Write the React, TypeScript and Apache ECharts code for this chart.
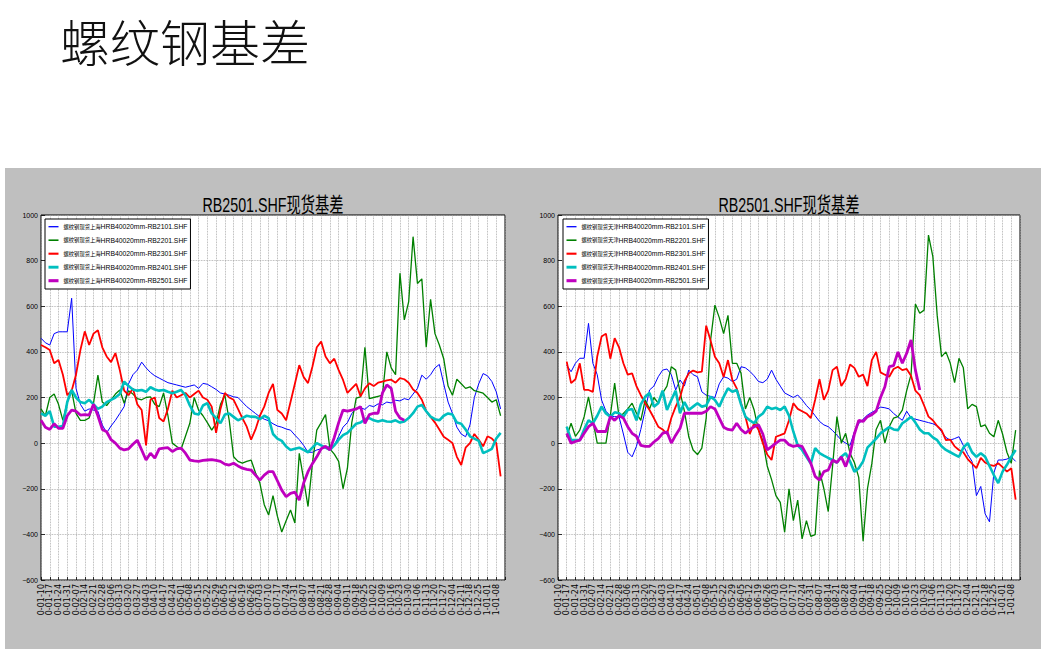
import React, { useEffect, useRef } from "react";
import * as echarts from "echarts";

const weekLabels = [
  "0-01-10", "0-01-17", "0-01-24", "0-01-31", "0-02-07", "0-02-14", "0-02-21", "0-02-28",
  "0-03-06", "0-03-13", "0-03-20", "0-03-27", "0-04-03", "0-04-10", "0-04-17", "0-04-24",
  "0-05-01", "0-05-08", "0-05-15", "0-05-22", "0-05-29", "0-06-05", "0-06-12", "0-06-19",
  "0-06-26", "0-07-03", "0-07-10", "0-07-17", "0-07-24", "0-07-31", "0-08-07", "0-08-14",
  "0-08-21", "0-08-28", "0-09-04", "0-09-11", "0-09-18", "0-09-25", "0-10-02", "0-10-09",
  "0-10-16", "0-10-23", "0-10-30", "0-11-06", "0-11-13", "0-11-20", "0-11-27", "0-12-04",
  "0-12-11", "0-12-18", "0-12-25", "1-01-01", "1-01-08",
];

const yTicks = { min: -600, max: 1000, step: 200 };

const contracts = ["RB2101.SHF", "RB2201.SHF", "RB2301.SHF", "RB2401.SHF", "RB2501.SHF"];
const chartTitle = "RB2501.SHF现货基差";
const pageTitle = "螺纹钢基差";

// 上海 (left chart), two samples per week
const sh2101 = [
  460, 440, 430, 480, 488, 488, 488, 635, 240, 170,
  140, 150, 145, 140, 80, 45, 75, 100, 130, 160,
  260, 300, 320, 355, 330, 310, 295, 285, 275, 265,
  260, 255, 250, 245, 250, 255, 240, 262, 258, 247,
  235, 220, 215, 210, 203, 200, 180, 160, 145, 130,
  115, 105, 98, 85, 75, 70, 62, 57, 35, 15,
  -10, -40, -40, -30, -25, -20, -15, -10, 30, 70,
  90, 130, 150, 155, 148, 165, 160, 172, 168, 180,
  176, 188, 185, 195, 190, 215, 240, 298, 280, 300,
  330, 345, 260, 180, 130, 70, 40, 28, 80, 200,
  260, 305, 295, 270, 225, 150,
];
const sh2201 = [
  150, 120, 200, 215, 170, 100, 180, 230, 130, 100,
  100, 110, 175, 298, 180, 165, 190, 215, 233, 175,
  230, 215, 195, 190, 200, 203, 170, 160, 220, 120,
  0, -15, -27, 30, 87, 200, 145, 120, 90, 57,
  87, 170, 210, 100, -60, -80, -88, -80, -74, -130,
  -175, -270, -315, -230, -320, -390, -340, -293, -350, -45,
  -160, -278, -90, 57, 90, 125, -25, -48, -80, -200,
  -110, 90, 197, 203, 420, 195, 200, 205, 210, 400,
  330, 300, 745, 540, 620, 905, 700, 720, 420, 630,
  480, 430, 370, 250, 210, 280, 260, 240, 247, 230,
  225, 219, 200, 180, 190, 120,
];
const sh2301 = [
  430, 420, 408, 350, 364, 300, 210, 230, 300, 408,
  490, 430, 480, 495, 420, 380, 355, 395, 320, 230,
  210, 240, 170, 145, -10, 190, 200, 110, 95, 150,
  230, 200, 210, 220, 200, 215, 230, 200, 190, 160,
  45, 150, 220, 200, 190, 150, 110, 72, 15, 60,
  120, 160, 220, 260, 145, 130, 100, 180, 260, 342,
  290, 263, 335, 420, 445, 380, 350, 370, 320, 277,
  220, 240, 260, 205, 240, 262, 250, 265, 270, 275,
  278, 265, 285, 280, 265, 235, 220, 190, 140, 115,
  90, 60, 28, 15, 0, -60, -96, -20, 0, 40,
  15, -14, 30, 20, 0, -146,
];
const sh2401 = [
  130, 120, 140, 72, 72, 75, 180, 233, 200, 180,
  175, 190, 170, 150, 160, 180, 190, 200, 215, 270,
  250, 235, 230, 233, 225, 245, 235, 230, 233, 225,
  219, 225, 233, 210, 165, 130, 125, 165, 175, 130,
  110, 87, 125, 130, 115, 100, 110, 120, 116, 115,
  105, 120, 110, 40, 20, 10, -15, -30, -25, -20,
  -30, -40, -20, 0, -10, -20, -30, -10, 15, 35,
  45, 65, 85, 90, 105, 110, 100, 95, 100, 95,
  94, 100, 90, 95, 110, 131, 160, 167, 140, 116,
  105, 100, 120, 130, 125, 90, 85, 60, 30, 20,
  10, -44, -35, -25, 20, 45,
];
const sh2501 = [
  100, 70, 60, 85, 65, 65, 120, 145, 140, 123,
  125, 123, 170, 120, 60, 50, 15, 0, -22, -30,
  -25, -5, 13, -30, -74, -44, -66, -25, -22, -20,
  -37, -25, -22, -44, -74, -78, -80, -76, -74, -72,
  -76, -80, -92, -96, -88, -100, -110, -115, -118, -140,
  -162, -140, -125, -125, -165, -206, -235, -220, -215, -250,
  -175, -125, -90, -60, -25, -14, -30, 25, 90, 145,
  140, 145, 150, 160, 87, 125, 131, 131, 220, 255,
  240, 140, 110, 100,
];

// 天津 (right chart)
const tj2101 = [
  null, null, 342, 313, 350, 372, 372, 525, 350, 300,
  189, 140, 120, 116, 116, 40, -40, -60, -14, 60,
  145, 233, 250, 291, 320, 325, 300, 233, 277, 250,
  320, 300, 291, 225, 210, 205, 200, 260, 291, 285,
  270, 280, 335, 330, 315, 295, 270, 265, 280, 320,
  280, 250, 220, 210, 200, 211, 190, 165, 145, 120,
  95, 80, 72, 55, 35, 13, 0, -10, 50, 85,
  105, 123, 135, 145, 158, 155, 150, 130, 115, 100,
  140, 110, 105, 100, 95, 90, 85, 75, 50, 25,
  13, 20, 28, -10, -50, -80, -230, -190, -310, -345,
  -130, -74, -74, -70, -60, -80,
];
const tj2201 = [
  null, null, 28, 87, 30, 57, 116, 203, 100, 0,
  0, 0, 120, 263, 116, 130, 150, 175, 131, 100,
  189, 150, 200, 175, 219, 250, 335, 320, 225, 140,
  28, -30, -50, -22, 110, 450, 605, 550, 480, 560,
  350, 350, 306, 150, 200, 145, 57, 10, -100, -160,
  -230, -260, -390, -200, -340, -250, -420, -340, -409, -401,
  -120, -200, -300, -100, 116, 0, 43, -45, -85, -150,
  -430, -200, -90, 60, 100, 0, 72, 110, 116, 145,
  230, 300, 610, 569, 583, 912, 818, 560, 379, 400,
  350, 265, 372, 330, 150, 170, 160, 72, 80, 43,
  28, 100, 40, -40, -88, 57,
];
const tj2301 = [
  null, null, 357, 263, 280, 350, 233, 233, 225, 380,
  467, 480, 370, 460, 420, 350, 300, 306, 250, 210,
  175, 145, 110, 72, 60, 40, 110, 160, 200, 270,
  306, 318, 310, 313, 515, 450, 379, 350, 290, 364,
  277, 240, 175, 116, 40, 87, 60, 0, -50, -74,
  28, 35, 43, 100, 175, 150, 140, 130, 110, 190,
  280, 190, 230, 320, 335, 250, 280, 345, 330, 291,
  300, 250, 364, 400, 310, 300, 291, 325, 335, 320,
  325, 295, 230, 210, 165, 116, 100, 75, 57, 13,
  15, -14, -30, -40, -70, -90, -110, -65, -85, -95,
  -100, -88, -105, -125, -110, -248,
];
const tj2401 = [
  null, null, 72, 13, 13, 13, 60, 100, 87, 120,
  160, 130, 116, 135, 131, 116, 145, 150, 100, 170,
  203, 220, 160, 175, 230, 145, 189, 230, 131, 180,
  145, 160, 175, 160, 165, 203, 189, 160, 203, 240,
  225, 233, 170, 116, 100, 87, 116, 130, 160, 150,
  155, 145, 160, 120, 50, -10, -30, -60, -90, -22,
  -44, -55, -65, -74, -85, -60, -44, -80, -125, -110,
  -80, -20, 0, 20, 43, 57, 70, 60, 57, 87,
  100, 116, 90, 60, 43, 43, 25, 13, -14, -30,
  -40, -50, -60, -20, 0, -40, -60, -44, -60, -100,
  -140, -175, -125, -95, -60, -30,
];
const tj2501 = [
  null, null, 43, 0, 7, 13, 43, 72, 87, 51,
  51, 51, 116, 100, 120, 110, 72, 43, 30, -10,
  -14, -14, 5, 20, 43, 50, 0, 35, 65, 131,
  131, 131, 131, 131, 140, 160, 150, 110, 70, 60,
  57, 87, 60, 43, 60, 72, 80, 40, -30, -15,
  0, 13, 13, -7, -14, -10, -14, -50, -88, -146,
  -162, -125, -118, -74, -85, -60, -103, -50, 40, 100,
  95, 116, 125, 140, 200, 247, 335, 340, 400, 350,
  394, 452, 320, 233,
];

const colors = ["#0000ff", "#008000", "#ff0000", "#00bfbf", "#bf00bf"];
const widths = [1, 1.3, 1.8, 2.6, 2.8];

const nCat = weekLabels.length * 2 + 1;
const categories = Array.from({ length: nCat }, (_, i) => String(i));

const lineIcon = (w: number) =>
  `path://M0,0L0,0M0,10L0,10M0,${5 - w / 2}L10,${5 - w / 2}L10,${5 + w / 2}L0,${5 + w / 2}Z`;

const minus = (v: number) => (v < 0 ? "\u2212" + Math.abs(v) : String(v));

const grids = [
  { left: 41, top: 215, width: 464, height: 365 },
  { left: 558, top: 215, width: 462, height: 365 },
];

const buildOption = () => {
  const panels = [
    { city: "上海", data: [sh2101, sh2201, sh2301, sh2401, sh2501], legendLeft: 45 },
    { city: "天津", data: [tj2101, tj2201, tj2301, tj2401, tj2501], legendLeft: 563 },
  ];
  const series: any[] = [];
  const legends: any[] = [];
  panels.forEach((p, gi) => {
    const names = contracts.map((c) => `螺纹钢现货${p.city}HRB40020mm-${c}`);
    names.forEach((name, k) => {
      series.push({
        name,
        type: "line",
        xAxisIndex: gi,
        yAxisIndex: gi,
        data: p.data[k],
        symbol: "none",
        showSymbol: false,
        silent: true,
        connectNulls: false,
        lineStyle: { color: colors[k], width: widths[k] },
        itemStyle: { color: colors[k] },
        z: 2 + k * 0.1,
      });
    });
    legends.push({
      orient: "vertical",
      left: p.legendLeft,
      top: 219,
      padding: [2.7, 3, 3.3, 3.5],
      itemWidth: 10,
      itemHeight: 10,
      itemGap: 3.5,
      selectedMode: false,
      backgroundColor: "#ffffff",
      borderColor: "#000000",
      borderWidth: 1,
      borderRadius: 0,
      itemStyle: { borderWidth: 0 },
      data: names.map((n, k) => ({ name: n, icon: lineIcon(widths[k] + 0.3) })),
      formatter: (n: string) => `{c|${n.slice(0, 7)}}{l|${n.slice(7)}}`,
      textStyle: {
        rich: {
          c: { fontSize: 5.3, fontFamily: "Noto Sans CJK SC", color: "#000", lineHeight: 10 },
          l: { fontSize: 6.8, fontFamily: "Liberation Sans", color: "#000", lineHeight: 10 },
        },
      },
    });
  });

  return {
    animation: false,
    backgroundColor: "transparent",
    grid: grids.map((g) => ({
      ...g,
      show: true,
      backgroundColor: "#ffffff",
      borderColor: "#000000",
      borderWidth: 1,
      containLabel: false,
    })),
    xAxis: grids.map((_, gi) => ({
      type: "category",
      gridIndex: gi,
      data: categories,
      boundaryGap: false,
      axisLine: { show: false, onZero: false },
      axisTick: { show: true, inside: true, length: 3, interval: 1, lineStyle: { color: "#000", width: 0.8 } },
      axisLabel: {
        interval: 1,
        rotate: 90,
        margin: 4,
        fontSize: 8,
        fontFamily: "DejaVu Sans",
        color: "#000",
        formatter: (_v: string, i: number) => (i % 2 === 0 && weekLabels[i / 2] ? weekLabels[i / 2] : ""),
      },
      splitLine: { show: true, interval: 1, lineStyle: { color: "#a0a0a0", type: "dotted", width: 0.8 } },
    })),
    yAxis: grids.map((_, gi) => ({
      type: "value",
      gridIndex: gi,
      min: yTicks.min,
      max: yTicks.max,
      interval: yTicks.step,
      axisLine: { show: false, onZero: false },
      axisTick: { show: true, inside: true, length: 4, lineStyle: { color: "#000", width: 0.8 } },
      axisLabel: {
        margin: 3,
        fontSize: 7,
        fontFamily: "Liberation Sans",
        color: "#000",
        formatter: (v: number) => minus(v),
      },
      splitLine: { show: true, lineStyle: { color: "#a0a0a0", type: "dotted", width: 0.8 } },
    })),
    legend: legends,
    graphic: [
      {
        type: "text",
        x: 60,
        y: 39.5,
        style: {
          text: pageTitle,
          fontSize: 50,
          fontFamily: "Noto Sans CJK SC",
          fontWeight: 300,
          fill: "#111",
          verticalAlign: "middle",
          textVerticalAlign: "middle",
        },
      },
      ...grids.map((g) => ({
        type: "text",
        x: g.left + g.width / 2,
        y: 205,
        scaleX: 0.68,
        z: 10,
        style: {
          text: chartTitle,
          fontSize: 21,
          fontFamily: "Liberation Sans, 'Noto Sans CJK SC', sans-serif",
          fill: "#000",
          align: "center",
          textAlign: "center",
          verticalAlign: "middle",
          textVerticalAlign: "middle",
        },
      })),
    ],
    series,
  };
};

export default function App() {
  const ref = useRef<HTMLDivElement>(null);
  useEffect(() => {
    if (!ref.current) return;
    const chart = echarts.init(ref.current, null, { renderer: "svg" });
    chart.setOption(buildOption() as any);
    return () => chart.dispose();
  }, []);
  return (
    <div style={{ position: "fixed", left: 0, top: 0, width: 1046, height: 649, background: "#ffffff", overflow: "hidden" }}>
      <div style={{ position: "absolute", left: 5, top: 168, width: 1036, height: 481, background: "#bfbfbf" }} />
      <div ref={ref} style={{ position: "absolute", left: 0, top: 0, width: 1046, height: 649 }} />
    </div>
  );
}
